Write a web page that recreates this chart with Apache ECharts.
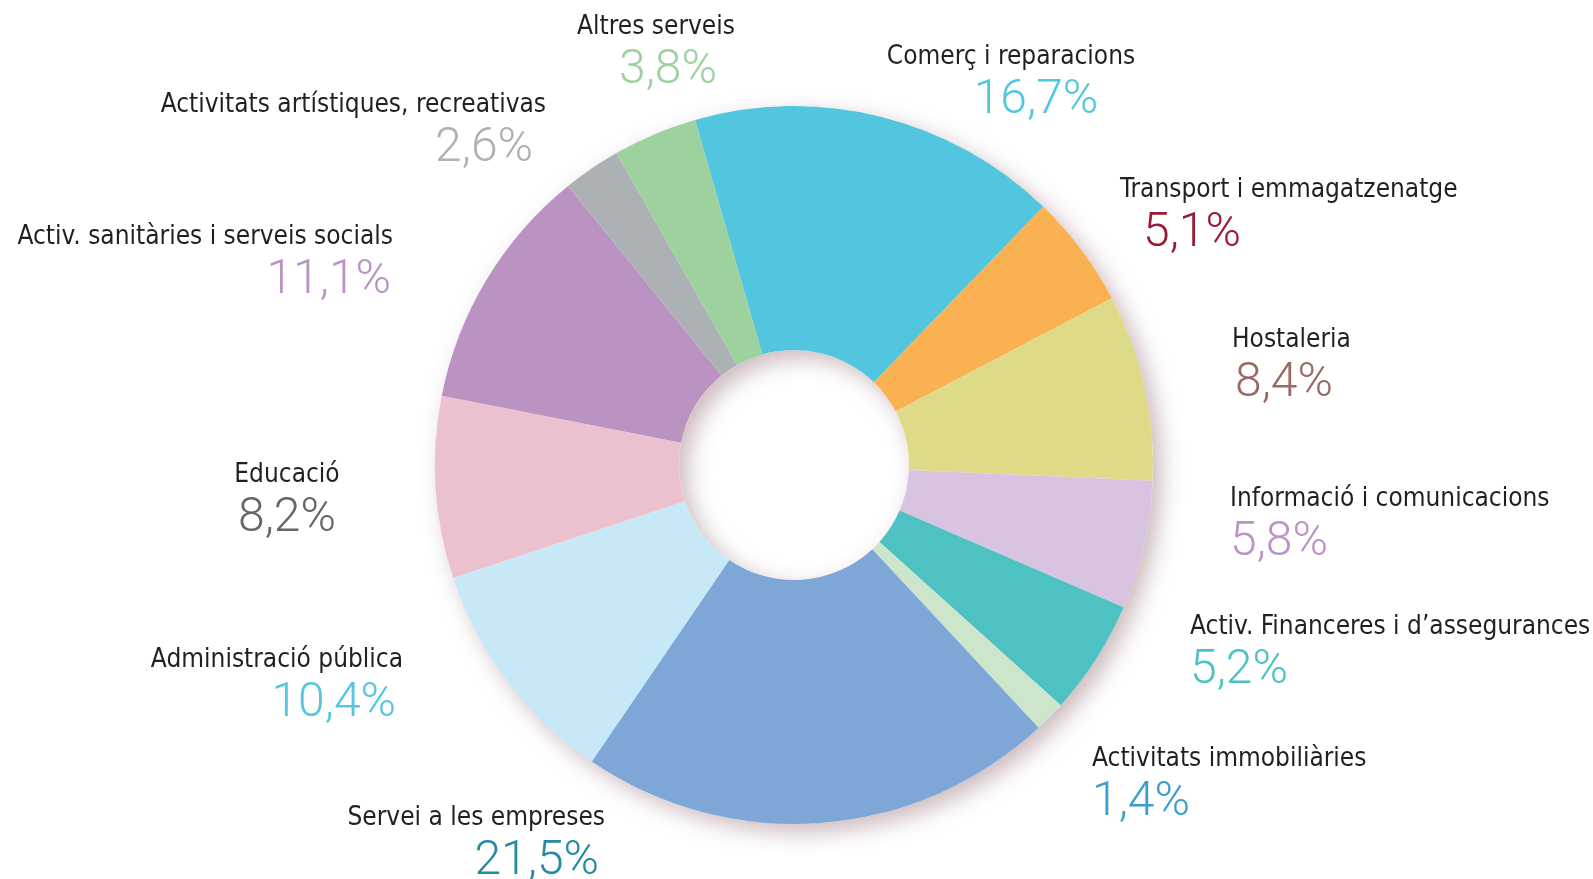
<!DOCTYPE html>
<html>

<head>
  <meta charset="utf-8">
  <title>Ocupats per sectors</title>
  <style>
    html, body { margin: 0; padding: 0; background: #fff; }
    #chart { width: 1593px; height: 879px; }
  </style>
</head>

<body>
  <div id="chart"></div>
  <script src="https://cdn.jsdelivr.net/npm/echarts@6/dist/echarts.min.js"></script>

  <script type="text/javascript">
    // sectors, clockwise starting from the top
    var sectors = [
      "Comerç i reparacions",
      "Transport i emmagatzenatge",
      "Hostaleria",
      "Informació i comunicacions",
      "Activ. Financeres i d’assegurances",
      "Activitats immobiliàries",
      "Servei a les empreses",
      "Administració pública",
      "Educació",
      "Activ. sanitàries i serveis socials",
      "Activitats artístiques, recreativas",
      "Altres serveis"
    ];
    var shares = [16.7, 5.1, 8.4, 5.8, 5.2, 1.4, 21.5, 10.4, 8.2, 11.1, 2.6, 3.8];

    var sliceColors = ["#53c6df", "#f9b152", "#dddb87", "#d8c4e0", "#4ec2c2", "#cde6cb",
      "#7ea7d8", "#c6e8f7", "#ebc1cf", "#bb93c3", "#acb1b5", "#9dd19d"];
    var labelColors = ["#53c6df", "#9b1b34", "#9a6a62", "#bb93c8", "#4ec2c2", "#3a9fcf",
      "#268aa3", "#55c6e0", "#666666", "#bb93c3", "#acb1b5", "#9dd19d"];

    // where each label sits: anchor x, baseline of the name, alignment, nudge of the percentage
    var labelSpots = [
      [1011, 64, "center", 25],
      [1120, 197, "left", 23],
      [1232, 347, "left", 3],
      [1230, 506, "left", 0],
      [1190, 634, "left", 0],
      [1092, 766, "left", 0],
      [605, 825, "right", 6],
      [403, 667, "right", 7],
      [287, 482, "center", 0],
      [393, 244, "right", 2],
      [546, 112, "right", 13],
      [656, 34, "center", 12]
    ];

    var narrowFont = '"DejaVu Sans Condensed", "Liberation Sans Narrow", "Arial Narrow", sans-serif';
    var lightFont = 'Roboto, "Open Sans", Lato, sans-serif';
    var NAME_TOP = 24; // distance from the top of the label box to the name baseline

    function pctText(v) {
      return v.toFixed(1).replace(".", ",") + "%";
    }

    var pieData = sectors.map(function (name, i) {
      var spot = labelSpots[i];
      var pad = [0, 0, 0, 0];
      if (spot[2] === "left") pad[3] = spot[3];
      else if (spot[2] === "right") pad[1] = spot[3];
      else pad[3] = spot[3] * 2;
      return {
        name: name,
        value: shares[i],
        itemStyle: { color: sliceColors[i] },
        label: {
          rich: {
            n: { fontFamily: narrowFont, fontSize: 26, color: "#231f20", lineHeight: 34 },
            p: {
              fontFamily: lightFont, fontWeight: 300, fontSize: 48, lineHeight: 54,
              color: labelColors[i], padding: pad
            }
          }
        }
      };
    });

    var chart = echarts.init(document.getElementById("chart"));
    chart.setOption({
      backgroundColor: "#fff",
      animation: false,
      series: [
        {
          // soft shadow under the ring
          type: "pie",
          silent: true,
          center: [794, 465],
          radius: [115, 359],
          z: 1,
          label: { show: false },
          labelLine: { show: false },
          itemStyle: {
            color: "#fff",
            shadowBlur: 22,
            shadowOffsetX: 8,
            shadowOffsetY: 8,
            shadowColor: "rgba(125, 80, 90, 0.4)"
          },
          data: [{ value: 1, name: "" }]
        },
        {
          type: "pie",
          center: [794, 465],
          radius: [115, 359],
          startAngle: 106,
          clockwise: true,
          z: 2,
          avoidLabelOverlap: false,
          emphasis: { disabled: true },
          itemStyle: { borderWidth: 0 },
          labelLine: { show: false },
          label: {
            show: true,
            position: "outside",
            width: 700,
            formatter: function (p) {
              return "{n|" + p.name + "}\n{p|" + pctText(p.value) + "}";
            }
          },
          labelLayout: function (params) {
            var s = labelSpots[params.dataIndex];
            return { x: s[0], y: s[1] - NAME_TOP, align: s[2], verticalAlign: "top" };
          },
          data: pieData
        }
      ]
    });
    window.addEventListener("resize", chart.resize);
  </script>
</body>

</html>
